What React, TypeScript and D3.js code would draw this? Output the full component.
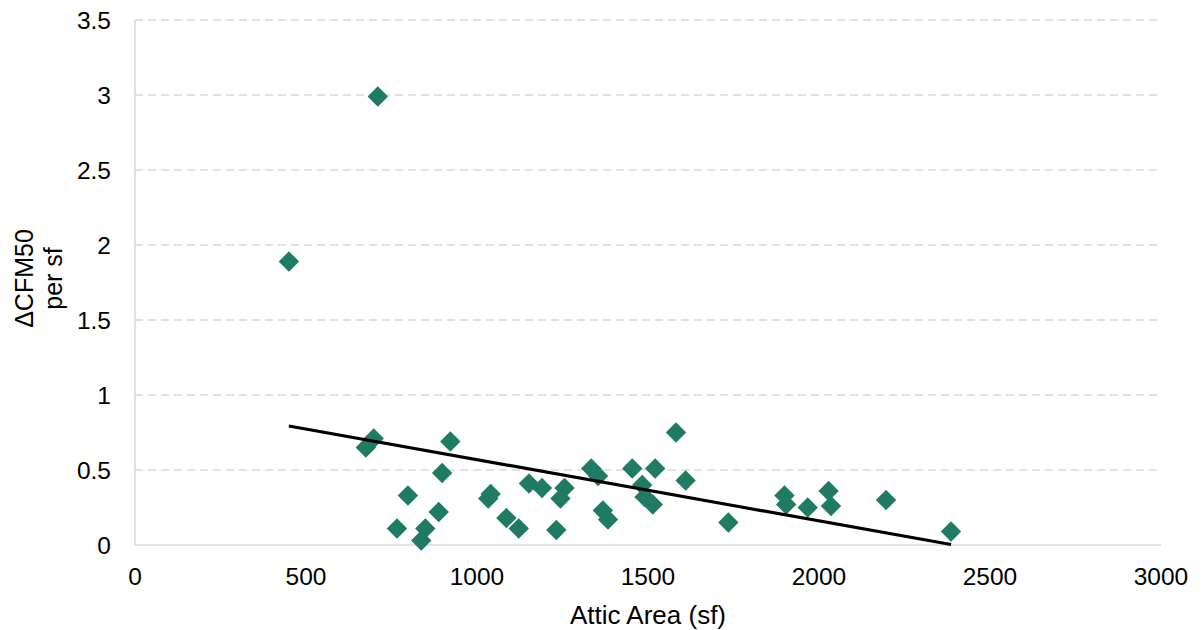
import React from "react";
import * as d3 from "d3";

const atticArea = [450, 710, 675, 698, 766, 798, 837, 849, 888, 898, 922, 1033, 1040, 1086, 1122, 1152, 1190, 1232, 1244, 1256, 1334, 1354, 1368, 1383, 1454, 1483, 1490, 1514, 1521, 1582, 1610, 1735, 1899, 1904, 1967, 2028, 2035, 2196, 2386];
const cfmPerSf = [1.89, 2.99, 0.65, 0.71, 0.11, 0.33, 0.03, 0.11, 0.22, 0.48, 0.69, 0.31, 0.34, 0.18, 0.11, 0.41, 0.38, 0.10, 0.31, 0.38, 0.51, 0.46, 0.23, 0.17, 0.51, 0.40, 0.32, 0.27, 0.51, 0.75, 0.43, 0.15, 0.33, 0.27, 0.25, 0.36, 0.26, 0.30, 0.09];
const xTicks = [0, 500, 1000, 1500, 2000, 2500, 3000];
const yTicks = [0, 0.5, 1, 1.5, 2, 2.5, 3, 3.5];
const trendSlope = -0.000408;
const trendIntercept = 0.977;

const W = 1201;
const H = 630;
const FONT = "'Liberation Sans', Arial, sans-serif";
const GREEN = "#1F7B63";
const GRID = "#d9d9d9";

export default function App() {
  const x = d3.scaleLinear().domain([0, 3000]).range([135, 1161]);
  const y = d3.scaleLinear().domain([0, 3.5]).range([545, 20]);
  const xMin = d3.min(atticArea) as number;
  const xMax = d3.max(atticArea) as number;
  const trend = d3.line<number>().x((v) => x(v)).y((v) => y(trendIntercept + trendSlope * v));
  const diamondPath = "M0,-10.2L10.2,0L0,10.2L-10.2,0Z";

  return (
    <div style={{ position: "absolute", left: 0, top: 0 }}>
      <svg width={W} height={H} style={{ display: "block", background: "#fff" }} fontFamily={FONT}>
        {yTicks.map((t) =>
          t === 0 ? null : (
            <line key={"g" + t} x1={x(0)} x2={x(3000)} y1={y(t)} y2={y(t)} stroke={GRID} strokeWidth={1.5} strokeDasharray="8,5" />
          )
        )}
        <line x1={x(0)} x2={x(0)} y1={y(0)} y2={y(3.5)} stroke={GRID} strokeWidth={1.5} />
        <line x1={x(0)} x2={x(3000)} y1={y(0)} y2={y(0)} stroke={GRID} strokeWidth={1.5} />
        {yTicks.map((t) => (
          <text key={"yt" + t} x={111} y={y(t) + 9} textAnchor="end" fontSize={24.5} fill="#000">
            {String(t)}
          </text>
        ))}
        {xTicks.map((t) => (
          <text key={"xt" + t} x={x(t)} y={585} textAnchor="middle" fontSize={24.5} fill="#000">
            {String(t)}
          </text>
        ))}
        {atticArea.map((a, i) => (
          <path key={"p" + i} d={diamondPath} transform={`translate(${x(a)},${y(cfmPerSf[i])})`} fill={GREEN} />
        ))}
        <path d={trend([xMin, xMax]) || ""} fill="none" stroke="#000" strokeWidth={3.2} />
        <text x={(x(0) + x(3000)) / 2} y={624} textAnchor="middle" fontSize={26} fill="#000">
          Attic Area (sf)
        </text>
        <g transform={`translate(0,${(y(0) + y(3.5)) / 2 - 4}) rotate(-90)`}>
          <text x={0} y={33} textAnchor="middle" fontSize={25} fill="#000">ΔCFM50</text>
          <text x={0} y={62} textAnchor="middle" fontSize={25} fill="#000">per sf</text>
        </g>
      </svg>
    </div>
  );
}
